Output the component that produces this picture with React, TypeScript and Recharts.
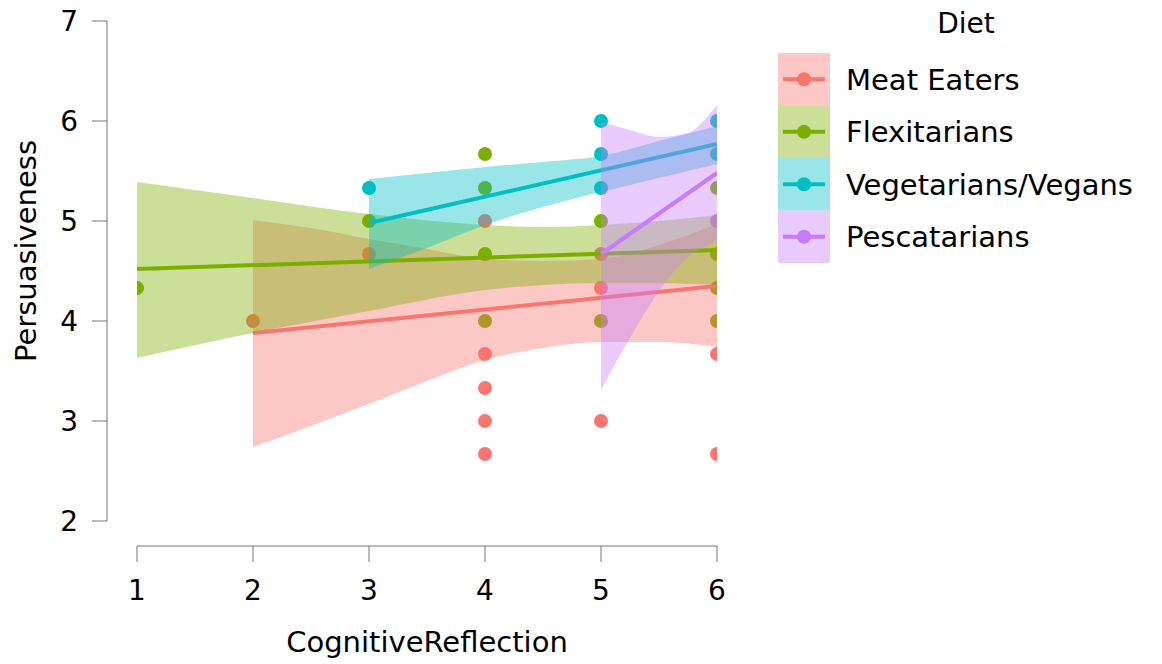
import { Area, ComposedChart, Label, Line, ReferenceLine, Scatter, XAxis, YAxis } from 'recharts';

// Persuasiveness vs CognitiveReflection, one colour per diet group:
// raw points underneath, then each group's CI ribbon + fitted line on top.

const FONT = '"DejaVu Sans", Verdana, sans-serif';
const AXIS = '#777';
const INK = '#000';

const X_TICKS = [1, 2, 3, 4, 5, 6];
const Y_TICKS = [2, 3, 4, 5, 6, 7];

const GROUPS = ['Meat Eaters', 'Flexitarians', 'Vegetarians/Vegans', 'Pescatarians'];
const COLORS = ['#F8766D', '#7CAE00', '#00BFC4', '#C77CFF'];

// observed responses [cognitiveReflection, persuasiveness]
const MEAT_POINTS = [
  [2, 4], [3, 4.67], [4, 5], [4, 3.67], [4, 3.33], [4, 3], [4, 2.67],
  [5, 4.67], [5, 4.33], [5, 3], [6, 3.67], [6, 2.67],
];
const FLEX_POINTS = [
  [1, 4.33], [3, 5], [4, 5.67], [4, 5.33], [4, 4.67], [4, 4],
  [5, 5], [5, 4], [6, 5.33], [6, 4.67], [6, 4.33], [6, 4],
];
const VEG_POINTS = [[3, 5.33], [5, 6], [5, 5.67], [5, 5.33], [6, 6], [6, 5.67]];
const PESC_POINTS = [[6, 5]];

// fitted regression lines (start, end)
const MEAT_FIT = [[2, 3.88], [6, 4.35]];
const FLEX_FIT = [[1, 4.52], [6, 4.71]];
const VEG_FIT = [[3, 4.98], [6, 5.77]];
const PESC_FIT = [[5, 4.67], [6, 5.48]];

// confidence ribbons [x, lower, upper]
const MEAT_BAND = [
  [2, 2.74, 5.01], [2.5, 2.95, 4.93], [3, 3.17, 4.82], [3.5, 3.4, 4.72], [4, 3.61, 4.62],
  [4.5, 3.73, 4.6], [5, 3.79, 4.62], [5.5, 3.79, 4.76], [6, 3.74, 4.97],
];
const FLEX_BAND = [
  [1, 3.63, 5.39], [2, 3.88, 5.23], [3, 4.1, 5.07], [4, 4.31, 4.96],
  [4.5, 4.36, 4.94], [5, 4.38, 4.96], [5.5, 4.38, 5.0], [6, 4.36, 5.06],
];
const VEG_BAND = [
  [3, 4.52, 5.42], [3.5, 4.73, 5.48], [4, 4.96, 5.54], [4.5, 5.14, 5.59],
  [5, 5.29, 5.65], [5.5, 5.43, 5.8], [6, 5.57, 5.95],
];
const PESC_BAND = [
  [5, 3.31, 5.99], [5.25, 3.83, 5.91], [5.5, 4.3, 5.84], [5.75, 4.64, 5.88],
  [5.9, 4.75, 6.02], [6, 4.81, 6.16],
];

const toPts = (rows: number[][]) => rows.map(([x, y]) => ({ x, y }));
const toBand = (rows: number[][]) => rows.map(([x, lo, hi]) => ({ x, band: [lo, hi] }));

const SERIES = [
  { points: MEAT_POINTS, fit: MEAT_FIT, band: MEAT_BAND },
  { points: FLEX_POINTS, fit: FLEX_FIT, band: FLEX_BAND },
  { points: VEG_POINTS, fit: VEG_FIT, band: VEG_BAND },
  { points: PESC_POINTS, fit: PESC_FIT, band: PESC_BAND },
].map((s, i) => ({
  name: GROUPS[i],
  color: COLORS[i],
  points: toPts(s.points),
  fit: toPts(s.fit),
  band: toBand(s.band),
}));

function XTick({ x, y, payload }: any) {
  return (
    <g>
      <line x1={x} x2={x} y1={y + 25} y2={y + 41} stroke={AXIS} />
      <text x={x} y={y + 79} textAnchor="middle" fontSize={28} fill={INK}>
        {payload.value}
      </text>
    </g>
  );
}

function DietLegend() {
  return (
    <svg width={1162} height={664} style={{ position: 'absolute', left: 0, top: 0, pointerEvents: 'none' }}>
      <text x={966} y={33} textAnchor="middle" fontSize={28} fill={INK}>
        Diet
      </text>
      {GROUPS.map((g, i) => {
        const top = 53 + i * 52.5;
        const cy = top + 26.25;
        return (
          <g key={g}>
            <rect x={778} y={top} width={52} height={52.5} fill={COLORS[i]} fillOpacity={0.4} />
            <line x1={783} x2={825} y1={cy} y2={cy} stroke={COLORS[i]} strokeWidth={4} />
            <circle cx={804} cy={cy} r={7} fill={COLORS[i]} />
            <text x={846} y={cy + 10.5} fontSize={29} fill={INK}>
              {g}
            </text>
          </g>
        );
      })}
    </svg>
  );
}

export default function App() {
  return (
    <div style={{ position: 'absolute', left: 0, top: 0, width: 1162, height: 664, background: '#fff', fontFamily: FONT }}>
      <ComposedChart width={1162} height={664} margin={{ top: 21, right: 445, bottom: 0, left: 0 }}>
        <XAxis
          type="number"
          dataKey="x"
          domain={[1, 6]}
          ticks={X_TICKS}
          padding={{ left: 30, right: 0 }}
          height={143}
          axisLine={false}
          tickLine={false}
          tickSize={0}
          tickMargin={0}
          tick={<XTick />}
          allowDataOverflow
        >
          <Label
            content={() => (
              <text x={427} y={652} textAnchor="middle" fontSize={29} fill={INK}>
                CognitiveReflection
              </text>
            )}
          />
        </XAxis>
        <YAxis
          type="number"
          domain={[2, 7]}
          ticks={Y_TICKS}
          width={107}
          tickSize={15}
          tickMargin={14}
          axisLine={{ stroke: AXIS }}
          tickLine={{ stroke: AXIS }}
          tick={{ fontSize: 28, fill: INK }}
          allowDataOverflow
        >
          <Label
            content={() => (
              <text transform="translate(36,251) rotate(-90)" textAnchor="middle" fontSize={29} fill={INK}>
                Persuasiveness
              </text>
            )}
          />
        </YAxis>

        {SERIES.map((s, i) => (
          <Scatter
            key={`pts-${s.name}`}
            name={s.name}
            data={s.points}
            dataKey="y"
            fill={s.color}
            zIndex={50 + i}
            shape={(p: any) => <circle cx={p.cx} cy={p.cy} r={7} fill={s.color} />}
            isAnimationActive={false}
          />
        ))}

        {SERIES.flatMap((s, i) => [
          <Area
            key={`band-${s.name}`}
            data={s.band}
            dataKey="band"
            type="monotone"
            stroke="none"
            fill={s.color}
            fillOpacity={0.4}
            dot={false}
            activeDot={false}
            zIndex={110 + i * 2}
            isAnimationActive={false}
          />,
          <Line
            key={`fit-${s.name}`}
            data={s.fit}
            dataKey="y"
            type="linear"
            stroke={s.color}
            strokeWidth={4}
            dot={false}
            activeDot={false}
            zIndex={111 + i * 2}
            isAnimationActive={false}
          />,
        ])}

        <ReferenceLine
          segment={[
            { x: 1, y: 1.75 },
            { x: 6, y: 1.75 },
          ]}
          stroke={AXIS}
          ifOverflow="visible"
        />
      </ComposedChart>
      <DietLegend />
    </div>
  );
}
